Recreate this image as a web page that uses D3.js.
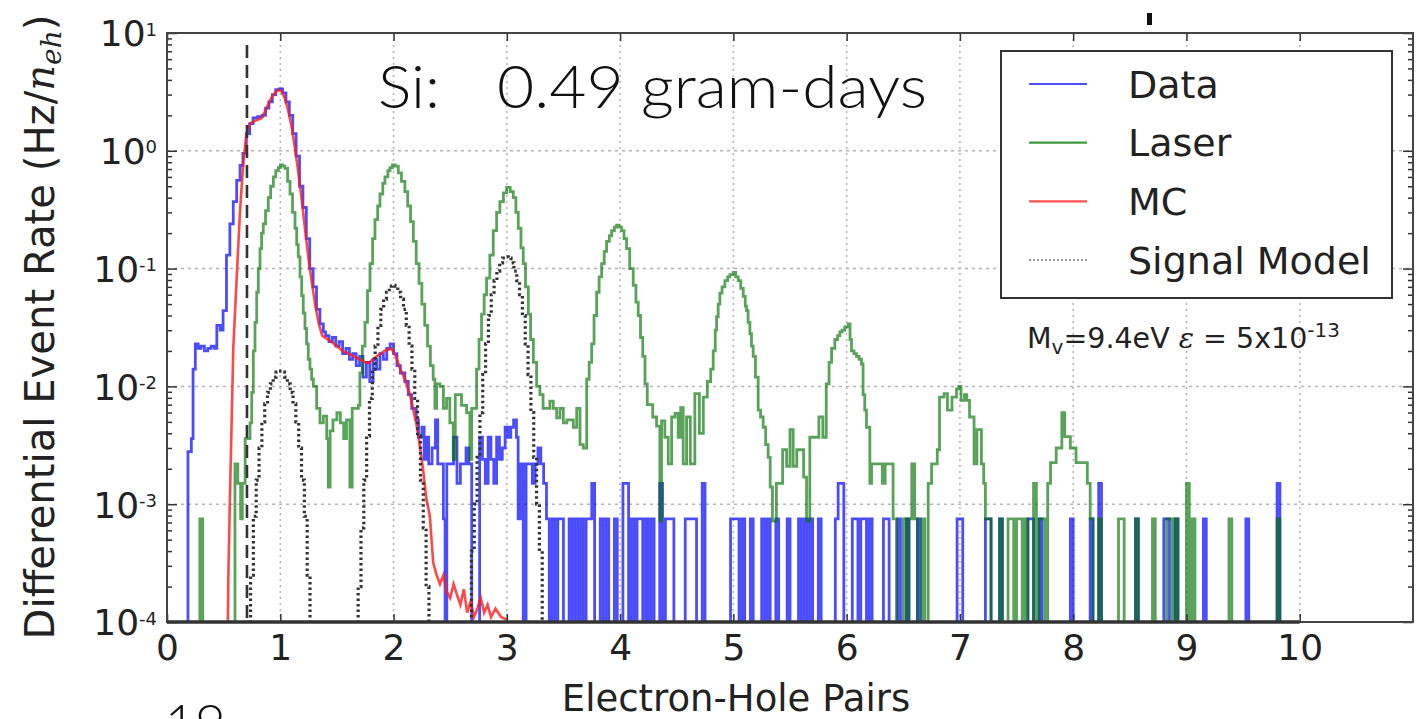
<!DOCTYPE html>
<html>
<head>
<meta charset="utf-8">
<script src="https://cdn.jsdelivr.net/npm/d3@7"></script>
<style>
body { margin: 0; background: #fff; }
svg { display: block; }
.axis text { font-family: "DejaVu Sans", sans-serif; fill: #222; }
.axis line { stroke: #333; stroke-width: 1.5; }
</style>
</head>
<body>
<script>
// values
var countRate = 7.5e-4;   // rate of a single event in one bin
var binWidth = 0.025;

// Data (blue) - dense part as [x where the step starts, rate]
var dataSteps = [
  [0.185, 0.0028], [0.215, 0.0036], [0.23, 0.014], [0.25, 0.023], [0.275, 0.021], [0.3, 0.022], [0.33, 0.02],
  [0.36, 0.021], [0.39, 0.022], [0.42, 0.021], [0.44, 0.033], [0.47, 0.03], [0.495, 0.044], [0.525, 0.13],
  [0.555, 0.24], [0.585, 0.37], [0.615, 0.56], [0.645, 0.75], [0.67, 0.95], [0.7, 1.4], [0.73, 1.7],
  [0.76, 1.9], [0.8, 1.95], [0.84, 2.0], [0.87, 2.3], [0.9, 2.6], [0.93, 3.0], [0.96, 3.3], [0.99, 3.35],
  [1.02, 3.1], [1.05, 2.6], [1.08, 2.0], [1.11, 1.4], [1.14, 0.9], [1.17, 0.5], [1.2, 0.33], [1.23, 0.18],
  [1.26, 0.1], [1.29, 0.07], [1.32, 0.045], [1.35, 0.034], [1.38, 0.029], [1.4, 0.027], [1.43, 0.024],
  [1.46, 0.026], [1.49, 0.022], [1.52, 0.024], [1.55, 0.019], [1.58, 0.021], [1.61, 0.017], [1.64, 0.019],
  [1.67, 0.015], [1.7, 0.018], [1.73, 0.012], [1.76, 0.016], [1.79, 0.011], [1.82, 0.017], [1.85, 0.014],
  [1.88, 0.019], [1.91, 0.017], [1.94, 0.021], [1.97, 0.023], [2.0, 0.019], [2.03, 0.015], [2.06, 0.013],
  [2.1, 0.011], [2.13, 0.0085], [2.16, 0.0065], [2.2, 0.0052], [2.22, 0.0037], [2.25, 0.0045], [2.27, 0.0024],
  [2.29, 0.0037], [2.31, 0.0022], [2.34, 0.003], [2.37, 0.0052], [2.39, 0.0022], [2.42, 0.0022], [2.44, 0.00075],
  [2.455, 0], [2.47, 0.0022], [2.5, 0.0022], [2.53, 0.0037], [2.56, 0.0015], [2.59, 0.0022], [2.62, 0.0022],
  [2.64, 0.003], [2.665, 0.0022], [2.69, 0], [2.76, 0.0037], [2.785, 0.0024], [2.81, 0.0015], [2.835, 0.0037],
  [2.86, 0.0024], [2.885, 0.0015], [2.91, 0.0037], [2.935, 0.0024], [2.96, 0.003], [2.985, 0.0045], [3.01, 0.0037],
  [3.035, 0.0045], [3.06, 0.0052], [3.085, 0.0037], [3.1, 0.00075], [3.12, 0.0022], [3.145, 0], [3.17, 0.0022],
  [3.2, 0.0022], [3.225, 0.0015], [3.25, 0.0022], [3.275, 0.003], [3.3, 0.0022], [3.325, 0.0015], [3.35, 0.00075],
  [3.375, 0]
];
// Data (blue) - sparse tail as [bin start, events]
var dataSparse = [
  [3.4, 1], [3.45, 1], [3.475, 1], [3.55, 1], [3.6, 1], [3.65, 1], [3.7, 1], [3.725, 1], [3.75, 2], [3.825, 1],
  [3.875, 1], [3.95, 1], [4.025, 2], [4.05, 2], [4.1, 1], [4.15, 1], [4.175, 1], [4.225, 1], [4.275, 1], [4.35, 2],
  [4.4, 1], [4.425, 1], [4.45, 1], [4.575, 1], [4.6, 1], [4.625, 1], [4.65, 1], [4.725, 2], [4.975, 1], [5.0, 1],
  [5.025, 1], [5.075, 1], [5.15, 1], [5.25, 1], [5.3, 1], [5.375, 1], [5.475, 1], [5.575, 1], [5.625, 1], [5.675, 1],
  [5.75, 1], [5.9, 1], [5.925, 2], [5.95, 2], [6.05, 1], [6.075, 1], [6.125, 1], [6.15, 1], [6.2, 1], [6.325, 1],
  [6.35, 1], [6.45, 1], [6.525, 1], [6.625, 1], [6.975, 1], [7.0, 1], [7.225, 1], [7.25, 1], [7.35, 1], [7.6, 1],
  [7.625, 1], [7.7, 1], [7.975, 1], [8.15, 1], [8.225, 2], [8.55, 1], [8.8, 1], [8.825, 1], [8.9, 1], [9.15, 1],
  [9.525, 1], [9.8, 2]
];

// Laser (green)
var laserSteps = [
  [0.29, 0.00075], [0.315, 0], [0.6, 0.0022], [0.625, 0.0015], [0.65, 0.00075], [0.665, 0.0015], [0.69, 0.0036],
  [0.718, 0.0036], [0.733, 0.0049], [0.748, 0.0089], [0.762, 0.02], [0.777, 0.035], [0.792, 0.063], [0.806, 0.1],
  [0.821, 0.148], [0.835, 0.2], [0.85, 0.24], [0.87, 0.31], [0.894, 0.4], [0.915, 0.5], [0.939, 0.6], [0.96, 0.68],
  [0.983, 0.72], [1.0, 0.76], [1.02, 0.74], [1.041, 0.71], [1.065, 0.55], [1.086, 0.43], [1.108, 0.3], [1.13, 0.22],
  [1.145, 0.16], [1.159, 0.126], [1.174, 0.085], [1.189, 0.059], [1.203, 0.042], [1.218, 0.031], [1.232, 0.023],
  [1.247, 0.017], [1.262, 0.014], [1.277, 0.0115], [1.292, 0.01], [1.321, 0.0065], [1.35, 0.0049], [1.38, 0.0056],
  [1.41, 0.0036], [1.424, 0.0014], [1.44, 0.0042], [1.465, 0.0052], [1.5, 0.006], [1.53, 0.0049], [1.56, 0.0036],
  [1.585, 0.0052], [1.615, 0.0014], [1.635, 0.0065], [1.66, 0.0065], [1.689, 0.0069], [1.703, 0.013], [1.725, 0.022],
  [1.748, 0.035], [1.77, 0.065], [1.792, 0.11], [1.815, 0.18], [1.836, 0.26], [1.86, 0.34], [1.88, 0.43],
  [1.905, 0.53], [1.924, 0.6], [1.95, 0.68], [1.968, 0.72], [1.99, 0.76], [2.015, 0.74], [2.042, 0.65], [2.07, 0.55],
  [2.1, 0.45], [2.125, 0.34], [2.15, 0.25], [2.175, 0.17], [2.2, 0.11], [2.225, 0.075], [2.25, 0.05], [2.275, 0.033],
  [2.3, 0.022], [2.325, 0.015], [2.35, 0.0115], [2.365, 0.0065], [2.38, 0.0105], [2.41, 0.01], [2.44, 0.0065],
  [2.468, 0.0079], [2.497, 0.0049], [2.527, 0.0024], [2.545, 0.0085], [2.571, 0.0085], [2.6, 0.0069], [2.645, 0.006],
  [2.674, 0.0024], [2.69, 0.0065], [2.71, 0.0065], [2.733, 0.014], [2.755, 0.025], [2.777, 0.041], [2.8, 0.06],
  [2.821, 0.083], [2.85, 0.13], [2.88, 0.21], [2.91, 0.3], [2.939, 0.37], [2.97, 0.44], [2.998, 0.49], [3.03, 0.45],
  [3.057, 0.4], [3.08, 0.3], [3.101, 0.22], [3.125, 0.15], [3.145, 0.11], [3.165, 0.07], [3.19, 0.041], [3.21, 0.025],
  [3.234, 0.016], [3.263, 0.01], [3.292, 0.0085], [3.32, 0.0065], [3.351, 0.0065], [3.38, 0.0075], [3.41, 0.0065],
  [3.44, 0.0054], [3.469, 0.0065], [3.499, 0.0049], [3.53, 0.0052], [3.558, 0.0052], [3.587, 0.0045], [3.617, 0.0065],
  [3.646, 0.0032], [3.675, 0.003], [3.705, 0.0115], [3.727, 0.016], [3.749, 0.023], [3.77, 0.04], [3.793, 0.063],
  [3.815, 0.085], [3.837, 0.11], [3.86, 0.14], [3.881, 0.17], [3.905, 0.19], [3.925, 0.21], [3.95, 0.225],
  [3.969, 0.234], [3.99, 0.225], [4.013, 0.21], [4.035, 0.18], [4.057, 0.148], [4.085, 0.1], [4.116, 0.072],
  [4.14, 0.052], [4.16, 0.04], [4.18, 0.026], [4.2, 0.018], [4.22, 0.0105], [4.24, 0.007], [4.288, 0.0055],
  [4.322, 0.0046], [4.351, 0.00072], [4.366, 0.0051], [4.395, 0.0037], [4.425, 0.0022], [4.455, 0.0055],
  [4.485, 0.0059], [4.513, 0.0037], [4.535, 0.0066], [4.557, 0.0022], [4.587, 0.0055], [4.62, 0.0022], [4.66, 0.0087],
  [4.7, 0.004], [4.735, 0.0081], [4.77, 0.011], [4.8, 0.014], [4.822, 0.02], [4.84, 0.03], [4.852, 0.039],
  [4.866, 0.05], [4.881, 0.062], [4.9, 0.07], [4.925, 0.079], [4.95, 0.085], [4.969, 0.089], [4.998, 0.093],
  [5.02, 0.085], [5.043, 0.079], [5.065, 0.068], [5.087, 0.058], [5.105, 0.048], [5.116, 0.044], [5.13, 0.035],
  [5.146, 0.028], [5.16, 0.022], [5.175, 0.018], [5.195, 0.012], [5.219, 0.0063], [5.24, 0.0055], [5.263, 0.0045],
  [5.285, 0.0032], [5.307, 0.0025], [5.325, 0.0014], [5.345, 0.00072], [5.38, 0.0015], [5.41, 0.0015], [5.435, 0.0029],
  [5.47, 0.0021], [5.5, 0.0043], [5.528, 0.0021], [5.56, 0.0029], [5.6, 0.0029], [5.62, 0.0017], [5.646, 0.00072],
  [5.675, 0.0037], [5.71, 0.0037], [5.755, 0.0055], [5.79, 0.0037], [5.82, 0.0105], [5.845, 0.016], [5.867, 0.021],
  [5.896, 0.025], [5.92, 0.027], [5.94, 0.029], [5.96, 0.03], [5.984, 0.032], [6.013, 0.034], [6.03, 0.025],
  [6.043, 0.02], [6.065, 0.019], [6.087, 0.018], [6.11, 0.017], [6.131, 0.0155], [6.145, 0.0085], [6.16, 0.0063],
  [6.175, 0.0045], [6.19, 0.0045], [6.205, 0.0015], [6.22, 0.0022], [6.25, 0.0022], [6.29, 0.0022], [6.315, 0.0015],
  [6.34, 0.0022], [6.37, 0.0022], [6.41, 0.00075], [6.44, 0], [6.5, 0.00075], [6.53, 0], [6.55, 0.00075],
  [6.575, 0.0022], [6.6, 0.00075], [6.625, 0], [6.665, 0.00075], [6.69, 0], [6.72, 0.0015], [6.75, 0.0022],
  [6.78, 0.0022], [6.8, 0.0029], [6.82, 0.0081], [6.84, 0.0081], [6.86, 0.0087], [6.89, 0.0063], [6.91, 0.0063],
  [6.93, 0.0081], [6.95, 0.0081], [6.97, 0.0095], [6.99, 0.01], [7.01, 0.0076], [7.04, 0.0085], [7.06, 0.0076],
  [7.085, 0.0055], [7.105, 0.0055], [7.125, 0.0022], [7.15, 0.0043], [7.175, 0.0043], [7.19, 0.0022], [7.21, 0.0015],
  [7.225, 0.00075], [7.275, 0]
];
var laserSparse = [
  [7.35, 1], [7.425, 1], [7.45, 1], [7.5, 1], [7.525, 1], [7.575, 1], [7.65, 2], [7.7, 1], [7.725, 1], [7.775, 2],
  [7.8, 3], [7.825, 3], [7.85, 4], [7.875, 4], [7.9, 8], [7.925, 5], [7.95, 5], [7.975, 4], [8.0, 4], [8.025, 3],
  [8.05, 3], [8.075, 3], [8.1, 3], [8.125, 2], [8.15, 1], [8.225, 1], [8.4, 1], [8.425, 1], [8.55, 1], [8.7, 1],
  [8.825, 1], [8.85, 1], [8.9, 1], [9.0, 2], [9.05, 1], [9.375, 1], [9.8, 1]
];

// MC (red) as [x, rate]
var mcPoints = [
  [0.527, 0], [0.541, 0.00023], [0.556, 0.0012], [0.571, 0.0052], [0.585, 0.021], [0.615, 0.083], [0.644, 0.3],
  [0.674, 0.81], [0.703, 1.4], [0.733, 1.7], [0.78, 1.8], [0.836, 1.9], [0.87, 2.2], [0.894, 2.5], [0.92, 2.8],
  [0.953, 3.1], [0.983, 3.3], [1.01, 3.2], [1.04, 2.8], [1.07, 2.2], [1.1, 1.6], [1.13, 1.05], [1.16, 0.65],
  [1.19, 0.38], [1.22, 0.21], [1.25, 0.12], [1.28, 0.075], [1.31, 0.048], [1.34, 0.034], [1.37, 0.027],
  [1.45, 0.024], [1.55, 0.02], [1.65, 0.018], [1.75, 0.016], [1.78, 0.0158], [1.85, 0.018], [1.92, 0.02],
  [1.98, 0.021], [2.02, 0.018], [2.06, 0.014], [2.1, 0.0115], [2.145, 0.0085], [2.2, 0.0049], [2.23, 0.0032],
  [2.26, 0.002], [2.29, 0.0011], [2.32, 0.0008], [2.35, 0.00032], [2.38, 0.00025], [2.41, 0.00021], [2.44, 0.00025],
  [2.47, 0.00018], [2.5, 0.00016], [2.53, 0.00021], [2.56, 0.00017], [2.59, 0.00014], [2.62, 0.00019],
  [2.65, 0.00012], [2.68, 0.00015], [2.71, 0.00011], [2.74, 0.00013], [2.77, 0.00016], [2.8, 0.00012],
  [2.83, 0.00014], [2.86, 0.00011], [2.9, 0.00013], [2.95, 0.00011], [3.0, 0.000105], [3.07, 0]
];

// Signal model (black dotted), bin centres
var signalPeak1 = [
  [0.7, 0], [0.725, 0.00008], [0.75, 0.00025], [0.775, 0.00079], [0.8, 0.0016], [0.825, 0.003], [0.85, 0.005],
  [0.875, 0.0071], [0.9, 0.0089], [0.925, 0.0105], [0.95, 0.012], [0.975, 0.0132], [1.0, 0.0135], [1.025, 0.0132],
  [1.05, 0.012], [1.075, 0.0105], [1.1, 0.0089], [1.125, 0.0071], [1.15, 0.005], [1.175, 0.003], [1.2, 0.0016],
  [1.225, 0.00079], [1.25, 0.00025], [1.275, 0.00008], [1.3, 0]
];
var signalPeak2 = [
  [1.65, 0], [1.675, 0.00006], [1.7, 0.0002], [1.725, 0.00063], [1.75, 0.0016], [1.775, 0.0038], [1.8, 0.0079],
  [1.825, 0.014], [1.85, 0.022], [1.875, 0.033], [1.9, 0.045], [1.925, 0.055], [1.95, 0.063], [1.975, 0.071],
  [2.0, 0.072], [2.025, 0.071], [2.05, 0.063], [2.075, 0.055], [2.1, 0.045], [2.125, 0.033], [2.15, 0.022],
  [2.175, 0.014], [2.2, 0.0079], [2.225, 0.0038], [2.25, 0.0016], [2.275, 0.00063], [2.3, 0.0002], [2.325, 0.00006],
  [2.35, 0]
];
var signalPeak3 = [
  [2.65, 0], [2.675, 0.00008], [2.7, 0.0004], [2.725, 0.001], [2.75, 0.0025], [2.775, 0.006], [2.8, 0.0126],
  [2.825, 0.023], [2.85, 0.04], [2.875, 0.06], [2.9, 0.079], [2.925, 0.095], [2.95, 0.112], [2.975, 0.123],
  [3.0, 0.126], [3.025, 0.123], [3.05, 0.112], [3.075, 0.095], [3.1, 0.079], [3.125, 0.06], [3.15, 0.04],
  [3.175, 0.023], [3.2, 0.0126], [3.225, 0.006], [3.25, 0.0025], [3.275, 0.001], [3.3, 0.0004], [3.325, 0.00008],
  [3.35, 0]
];

var xTicks = [0, 1, 2, 3, 4, 5, 6, 7, 8, 9, 10];
var yTicks = [1e-4, 1e-3, 1e-2, 1e-1, 1e0, 1e1];
var legendLabels = ["Data", "Laser", "MC", "Signal Model"];
var cutPosition = 0.706;

// ---- drawing ----
var W = 1427, H = 719;
var margin = {top: 33, right: 14, bottom: 97, left: 167};
var floorVal = 1e-5;

var svg = d3.select("body").append("svg")
  .attr("width", W)
  .attr("height", H);

var x = d3.scaleLinear().domain([0, 11]).range([margin.left, W - margin.right]);
var y = d3.scaleLog().domain([1e-4, 10]).range([H - margin.bottom, margin.top]);

var x0 = x.range()[0], x1 = x.range()[1], yTop = y.range()[1], yBot = y.range()[0];

svg.append("defs").append("clipPath").attr("id", "plot-clip")
  .append("rect")
  .attr("x", x0).attr("y", yTop)
  .attr("width", x1 - x0).attr("height", yBot - yTop);

// grid
var grid = svg.append("g").attr("class", "grid");
grid.selectAll("line.gx")
  .data(xTicks.slice(1))
  .enter().append("line")
  .attr("x1", d => x(d)).attr("x2", d => x(d))
  .attr("y1", yTop).attr("y2", yBot)
  .attr("stroke", "#b4b4b4").attr("stroke-width", 1.5).attr("stroke-dasharray", "2,4");
grid.selectAll("line.gy")
  .data(yTicks.slice(1, -1))
  .enter().append("line")
  .attr("x1", x0).attr("x2", x1)
  .attr("y1", d => y(d)).attr("y2", d => y(d))
  .attr("stroke", "#b4b4b4").attr("stroke-width", 1.5).attr("stroke-dasharray", "3,4");

function withFloor(pts) {
  var out = pts.slice();
  out.unshift([pts[0][0], 0]);
  return out;
}

function sparseSteps(bins) {
  var pts = [];
  bins.forEach(function (b, i) {
    var end = b[0] + binWidth;
    pts.push([b[0], b[1] * countRate]);
    var next = bins[i + 1];
    if (!next || next[0] - end > 1e-6) pts.push([end, 0]);
  });
  return pts;
}

function yv(v) { return y(v > 0 ? v : floorVal); }

var stepLine = d3.line().x(d => x(d[0])).y(d => yv(d[1])).curve(d3.curveStepAfter);
var centreStep = d3.line().x(d => x(d[0])).y(d => yv(d[1])).curve(d3.curveStep);
var plainLine = d3.line().x(d => x(d[0])).y(d => yv(d[1]));

var plot = svg.append("g").attr("clip-path", "url(#plot-clip)");

plot.append("path")
  .datum(withFloor(dataSteps).concat(withFloor(sparseSteps(dataSparse))))
  .attr("d", stepLine)
  .attr("fill", "none")
  .attr("stroke", "#0000ff").attr("stroke-opacity", 0.7)
  .attr("stroke-width", 2.8);

plot.append("path")
  .datum(withFloor(laserSteps).concat(withFloor(sparseSteps(laserSparse))))
  .attr("d", stepLine)
  .attr("fill", "none")
  .attr("stroke", "#007000").attr("stroke-opacity", 0.65)
  .attr("stroke-width", 2.8);

plot.append("path")
  .datum(mcPoints)
  .attr("d", plainLine)
  .attr("fill", "none")
  .attr("stroke", "#ff1a1a").attr("stroke-opacity", 0.8)
  .attr("stroke-width", 2.6);

[signalPeak1, signalPeak2, signalPeak3].forEach(function (pk) {
  plot.append("path")
    .datum(pk)
    .attr("d", centreStep)
    .attr("fill", "none")
    .attr("stroke", "#333")
    .attr("stroke-width", 3.2)
    .attr("stroke-dasharray", "2.5,3");
});

// threshold line
svg.append("line")
  .attr("x1", x(cutPosition)).attr("x2", x(cutPosition))
  .attr("y1", 45).attr("y2", yBot)
  .attr("stroke", "#333").attr("stroke-width", 2.6)
  .attr("stroke-dasharray", "13,7");

// axes
var minor = [];
yTicks.slice(0, -1).forEach(function (d) {
  for (var k = 2; k <= 9; k++) minor.push(d * k);
});

var gx = svg.append("g").attr("class", "axis")
  .attr("transform", "translate(0," + yBot + ")")
  .call(d3.axisBottom(x).tickValues(xTicks).tickSize(-8).tickPadding(12).tickFormat(d3.format("d")));
gx.selectAll("text").attr("font-size", 36);

svg.append("g").attr("class", "axis")
  .attr("transform", "translate(0," + yTop + ")")
  .call(d3.axisTop(x).tickValues(xTicks).tickSize(-8).tickFormat(""));

var gy = svg.append("g").attr("class", "axis")
  .attr("transform", "translate(" + x0 + ",0)")
  .call(d3.axisLeft(y).tickValues(yTicks).tickSize(-10).tickPadding(10).tickFormat(""));
gy.selectAll(".tick text").each(function (d) {
  var t = d3.select(this).attr("font-size", 36).attr("dy", "0.36em");
  t.append("tspan").text("10");
  t.append("tspan").attr("dy", "-0.6em").attr("font-size", "0.5em")
    .text(String(Math.round(Math.log10(d))));
});
svg.append("g").attr("class", "axis")
  .attr("transform", "translate(" + x0 + ",0)")
  .call(d3.axisLeft(y).tickValues(minor).tickSize(-5).tickFormat(""));

svg.append("g").attr("class", "axis")
  .attr("transform", "translate(" + x1 + ",0)")
  .call(d3.axisRight(y).tickValues(yTicks).tickSize(-10).tickFormat(""));
svg.append("g").attr("class", "axis")
  .attr("transform", "translate(" + x1 + ",0)")
  .call(d3.axisRight(y).tickValues(minor).tickSize(-5).tickFormat(""));

svg.selectAll(".axis .domain").remove();

// frame
svg.append("rect")
  .attr("x", x0).attr("y", yTop)
  .attr("width", x1 - x0).attr("height", yBot - yTop)
  .attr("fill", "none").attr("stroke", "#444").attr("stroke-width", 2);
svg.append("line")
  .attr("x1", x0).attr("x2", x(10))
  .attr("y1", yBot).attr("y2", yBot)
  .attr("stroke", "#333").attr("stroke-width", 3.5);

// axis labels
svg.append("text")
  .attr("x", 736).attr("y", 711)
  .attr("text-anchor", "middle")
  .attr("font-family", "DejaVu Sans, sans-serif").attr("font-size", 37).attr("fill", "#222")
  .text("Electron-Hole Pairs");

var yLab = svg.append("text")
  .attr("transform", "translate(54,327) rotate(-90)")
  .attr("text-anchor", "middle")
  .attr("font-family", "DejaVu Sans, sans-serif").attr("font-size", 34).attr("fill", "#222");
yLab.append("tspan").text("Differential Event Rate (Hz/");
yLab.append("tspan").attr("font-family", "DejaVu Serif, serif").attr("font-style", "italic").text("n");
yLab.append("tspan").attr("font-family", "DejaVu Serif, serif").attr("font-style", "italic")
  .attr("font-size", "0.7em").attr("dy", "0.25em").text("eh");
yLab.append("tspan").attr("dy", "-0.18em").text(")");
var yLabLen = yLab.node().getComputedTextLength();
yLab.attr("font-size", 34 * 625 / yLabLen);

// legend
var legend = svg.append("g");
legend.append("rect")
  .attr("x", 1001).attr("y", 51).attr("width", 391).attr("height", 247)
  .attr("fill", "#fff").attr("stroke", "#333").attr("stroke-width", 2);
var legendStyle = [
  {stroke: "#5050ff", dash: null, width: 2.2},
  {stroke: "#3e9a3e", dash: null, width: 2.2},
  {stroke: "#ff5050", dash: null, width: 2.2},
  {stroke: "#999", dash: "2,2", width: 2}
];
var legendRow = d3.scaleLinear().domain([0, 3]).range([84, 260]);
var items = legend.selectAll("g.item")
  .data(legendLabels)
  .enter().append("g")
  .attr("transform", (d, i) => "translate(0," + legendRow(i) + ")");
items.append("line")
  .attr("x1", 1029).attr("x2", 1087)
  .attr("stroke", (d, i) => legendStyle[i].stroke)
  .attr("stroke-width", (d, i) => legendStyle[i].width)
  .attr("stroke-dasharray", (d, i) => legendStyle[i].dash);
items.append("text")
  .attr("x", 1128).attr("dy", "0.36em")
  .attr("font-family", "DejaVu Sans, sans-serif").attr("font-size", 38).attr("fill", "#222")
  .text(d => d);

// annotations
svg.append("text")
  .attr("x", 378).attr("y", 108)
  .attr("font-family", "Lato, Roboto, sans-serif").attr("font-weight", 300)
  .attr("font-size", 60).attr("fill", "#111")
  .attr("textLength", 62).attr("lengthAdjust", "spacingAndGlyphs")
  .text("Si:");
svg.append("text")
  .attr("x", 497).attr("y", 108)
  .attr("font-family", "Lato, Roboto, sans-serif").attr("font-weight", 300)
  .attr("font-size", 60).attr("fill", "#111")
  .attr("textLength", 430).attr("lengthAdjust", "spacingAndGlyphs")
  .text("0.49 gram-days");

var note = svg.append("text")
  .attr("x", 1027).attr("y", 348)
  .attr("font-family", "DejaVu Sans, sans-serif").attr("font-size", 28.5).attr("fill", "#222");
note.append("tspan").text("M");
note.append("tspan").attr("font-size", "0.7em").attr("dy", "0.3em").text("v");
note.append("tspan").attr("dy", "-0.21em").text("=9.4eV ");
note.append("tspan").attr("font-family", "DejaVu Serif, serif").attr("font-style", "italic").text("ε");
note.append("tspan").text(" = 5x10");
note.append("tspan").attr("font-size", "0.7em").attr("dy", "-0.55em").text("-13");

// leftovers of the slide this figure was cut from
svg.append("rect").attr("x", 1147).attr("y", 13).attr("width", 5).attr("height", 12).attr("fill", "#111");
svg.append("text")
  .attr("x", 165).attr("y", 741)
  .attr("font-family", "Lato, Roboto, sans-serif").attr("font-weight", 300)
  .attr("font-size", 52).attr("fill", "#111")
  .text("19");
</script>
</body>
</html>
